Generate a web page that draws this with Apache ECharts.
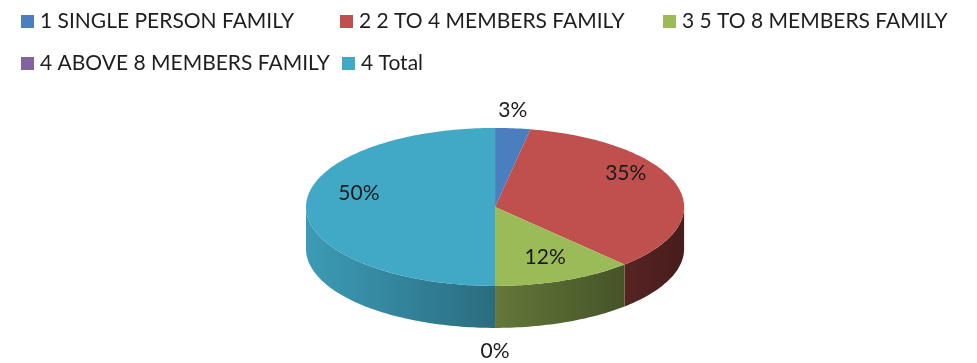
<!DOCTYPE html>
<html>
<head>
<meta charset="utf-8">
<script src="https://cdn.jsdelivr.net/npm/echarts@6/dist/echarts.min.js"></script>
<style>
  html, body { margin: 0; padding: 0; background: #ffffff; }
  #chart { width: 977px; height: 363px; }
</style>
</head>
<body>
<div id="chart"></div>
<script>
// Household size groups and their share of respondents (%)
const categories = [
  '1 SINGLE PERSON FAMILY',
  '2 2 TO 4 MEMBERS FAMILY',
  '3 5 TO 8 MEMBERS FAMILY',
  '4 ABOVE 8 MEMBERS FAMILY',
  '4 Total'
];
const shares = [3, 35, 12, 0, 50];
const sliceColors = ['#4a7ebf', '#c0504d', '#9bbb59', '#8064a2', '#41a9c6'];

// Legend grid: column/row slots for each entry
const legendSlots = [[21, 11], [340, 11], [663, 11], [21, 53], [342, 53]];

const FONT = 'Lato, "Liberation Sans", sans-serif';
const TEXT_COLOR = '#1e1e1e';

// Tilted disc geometry (fractions of the canvas)
const disc = { cx: 0.5067, cy: 0.570, rx: 0.1935, ry: 0.2176, depth: 0.1157 };

const total = shares.reduce((a, b) => a + b, 0);
const startShare = shares.map((_, i) => shares.slice(0, i).reduce((a, b) => a + b, 0));

function shade(hex, k) {
  const n = parseInt(hex.slice(1), 16);
  const r = Math.round(((n >> 16) & 255) * k);
  const g = Math.round(((n >> 8) & 255) * k);
  const b = Math.round((n & 255) * k);
  return 'rgb(' + r + ',' + g + ',' + b + ')';
}

function makeRenderer(idx) {
  return function (params, api) {
    const W = api.getWidth(), H = api.getHeight();
    const cx = disc.cx * W, cy = disc.cy * H;
    const rx = disc.rx * W, ry = disc.ry * H, depth = disc.depth * H;
    const value = api.value(0);
    const a0 = startShare[idx] / total * Math.PI * 2;
    const a1 = (startShare[idx] + value) / total * Math.PI * 2;
    const pt = (a, dy) => [cx + rx * Math.sin(a), cy - ry * Math.cos(a) + (dy || 0)];
    const arc = (from, to, dy) => {
      const n = Math.max(2, Math.ceil(Math.abs(to - from) / 0.02));
      const out = [];
      for (let k = 0; k <= n; k++) out.push(pt(from + (to - from) * k / n, dy));
      return out;
    };
    const children = [];
    const base = sliceColors[idx];

    // visible front wall
    const lo = Math.max(a0, Math.PI / 2), hi = Math.min(a1, Math.PI * 1.5);
    if (hi > lo) {
      const pts = arc(lo, hi, 0).concat(arc(hi, lo, depth));
      children.push({
        type: 'polygon',
        shape: { points: pts },
        style: {
          fill: {
            type: 'linear', global: true,
            x: cx - rx, y: 0, x2: cx + rx, y2: 0,
            colorStops: [
              { offset: 0, color: shade(base, 0.92) },
              { offset: 0.5, color: shade(base, 0.64) },
              { offset: 1, color: shade(base, 0.36) }
            ]
          }
        },
        silent: true
      });
    }

    // top face
    if (a1 > a0) {
      children.push({
        type: 'polygon',
        shape: { points: [[cx, cy]].concat(arc(a0, a1, 0)) },
        style: { fill: base },
        silent: true
      });
    }

    // percentage label: small slices outside the rim, others on the face
    const mid = (a0 + a1) / 2;
    let lx, ly;
    if (value < 5) {
      const front = Math.cos(mid) < 0;
      lx = cx + rx * Math.sin(mid);
      ly = cy - (ry + 18) * Math.cos(mid) + (front ? depth + 5 : 0);
    } else {
      lx = cx + rx * 0.72 * Math.sin(mid);
      ly = cy - ry * 0.88 * Math.cos(mid) - 14;
    }
    children.push({
      type: 'text',
      z2: 10,
      style: {
        text: Math.round(value / total * 100) + '%',
        x: lx, y: ly,
        align: 'center', verticalAlign: 'middle',
        font: '21px ' + FONT,
        fill: '#1a1a1a'
      },
      silent: true
    });

    return { type: 'group', children };
  };
}

const chart = echarts.init(document.getElementById('chart'), null, { renderer: 'canvas' });

chart.setOption({
  backgroundColor: '#ffffff',
  animation: false,
  legend: categories.map((name, i) => ({
    data: [name],
    left: legendSlots[i][0],
    top: legendSlots[i][1],
    icon: 'rect',
    itemWidth: 13,
    itemHeight: 13,
    selectedMode: false,
    padding: 0,
    textStyle: { fontFamily: FONT, fontSize: 21, color: TEXT_COLOR, padding: [0, 0, 0, 1] }
  })),
  series: categories.map((name, i) => ({
    type: 'custom',
    name: name,
    coordinateSystem: 'none',
    itemStyle: { color: sliceColors[i] },
    data: [[shares[i]]],
    renderItem: makeRenderer(i)
  }))
});
</script>
</body>
</html>
